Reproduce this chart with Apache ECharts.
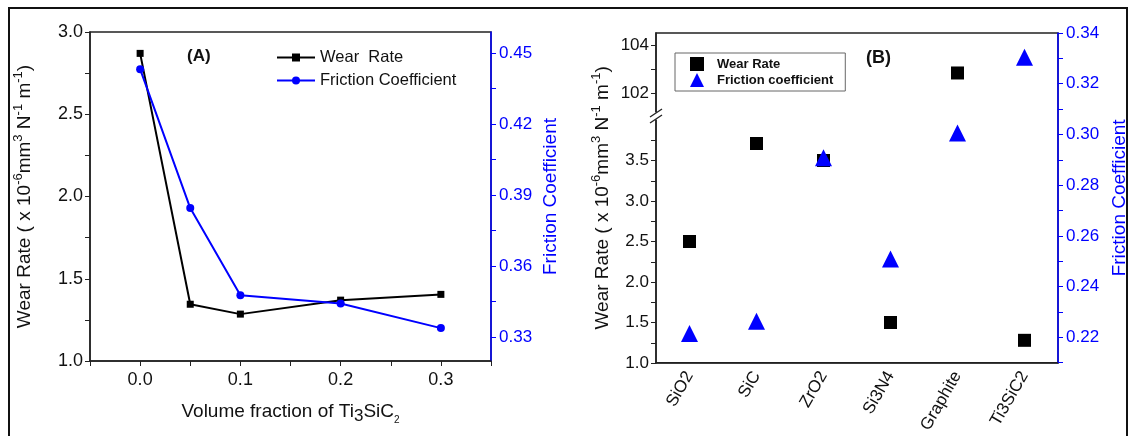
<!DOCTYPE html>
<html>
<head>
<meta charset="utf-8">
<script src="https://cdn.jsdelivr.net/npm/echarts@6/dist/echarts.min.js"></script>
<style>
  html, body { margin: 0; padding: 0; background: #fff; }
  #chart { width: 1134px; height: 436px; }
</style>
</head>
<body>
<div id="chart"></div>
<script>
// ---- Panel A: wear rate and friction coefficient vs. Ti3SiC2 volume fraction ----
const fractionA  = [0, 0.05, 0.1, 0.2, 0.3];
const wearRateA  = [2.87, 1.345, 1.285, 1.37, 1.405];
const frictionA  = [0.4432, 0.3845, 0.3477, 0.3442, 0.3338];

// ---- Panel B: wear rate and friction coefficient for each solid additive ----
const additivesB = ['SiO2', 'SiC', 'ZrO2', 'Si3N4', 'Graphite', 'Ti3SiC2'];
const wearRateB  = [2.5, 3.71, 3.5, 1.5, 102.83, 1.28];
const frictionB  = [0.2215, 0.2263, 0.2908, 0.2509, 0.3006, 0.3304];

// ---- tick labels ----
const ticksAx      = [0.0, 0.1, 0.2, 0.3];
const ticksAleft   = [1.0, 1.5, 2.0, 2.5, 3.0];
const ticksAright  = [0.33, 0.36, 0.39, 0.42, 0.45];
const ticksBlow    = [1.0, 1.5, 2.0, 2.5, 3.0, 3.5];
const ticksBhigh   = [102, 104];
const ticksBright  = [0.22, 0.24, 0.26, 0.28, 0.30, 0.32, 0.34];

const FONT = 'Liberation Sans, Arial, Helvetica, sans-serif';
const BLACK = '#111';
const BLUE = '#0000ff';
const AXIS_LINE = { onZero: false, lineStyle: { color: '#222', width: 1.5 } };

// break between the two ranges of panel B's wear-rate axis
const BREAK_SPLIT = 50;

function has(list, v, eps) {
  return list.some(t => Math.abs(t - v) < (eps || 1e-6));
}
function minorSteps(from, to, step) {
  const out = [];
  const n = Math.round((to - from) / step);
  for (let i = 0; i <= n; i++) out.push(+(from + i * step).toFixed(6));
  return out;
}

const wearTitle = '{n|Wear Rate ( x 10}{s|-6}{n|mm}{s|3}{n| N}{s|-1}{n| m}{s|-1}{n|)}';
const supRich = {
  n: { fontSize: 19, lineHeight: 26, fontFamily: FONT, color: BLACK },
  s: { fontSize: 13, lineHeight: 12, verticalAlign: 'top', fontFamily: FONT, color: BLACK }
};

const chart = echarts.init(document.getElementById('chart'), null, { renderer: 'canvas' });

const option = {
  animation: false,
  backgroundColor: '#fff',
  textStyle: { fontFamily: FONT },
  title: [
    { text: '(A)', left: 187, top: 48, padding: 0,
      textStyle: { fontSize: 17, fontWeight: 'bold', color: BLACK, fontFamily: FONT } },
    { text: '(B)', left: 866, top: 49, padding: 0,
      textStyle: { fontSize: 18, fontWeight: 'bold', color: BLACK, fontFamily: FONT } }
  ],
  legend: [
    {
      data: ['Wear  Rate', 'Friction Coefficient'],
      orient: 'vertical', left: 276, top: 49, padding: 0,
      itemWidth: 38, itemHeight: 10, itemGap: 6,
      textStyle: { fontSize: 16.5, color: BLACK, fontFamily: FONT }
    },
    {
      data: ['Wear Rate', 'Friction coefficient'],
      orient: 'vertical', left: 675, top: 53, padding: [4, 12, 4, 15],
      borderColor: '#666', borderWidth: 1,
      itemWidth: 14, itemHeight: 14, itemGap: 2,
      itemStyle: { opacity: 1 },
      textStyle: { fontSize: 13, fontWeight: 'bold', color: BLACK, fontFamily: FONT, padding: [0, 0, 0, 8] }
    }
  ],
  grid: [
    // A
    { left: 90, top: 32, width: 401, height: 329, show: true, borderColor: '#222', borderWidth: 1.5, backgroundColor: 'transparent' },
    // B (full panel: friction axis and categories)
    { left: 656, top: 33, width: 402, height: 330, show: true, borderColor: '#222', borderWidth: 1.5, backgroundColor: 'transparent' },
    // B upper wear-rate range
    { left: 656, top: 33, width: 402, height: 79 },
    // B lower wear-rate range
    { left: 656, top: 120, width: 402, height: 243 }
  ],
  xAxis: [
    {
      gridIndex: 0, type: 'value', min: -0.05, max: 0.35, interval: 0.05,
      axisLine: AXIS_LINE, splitLine: { show: false },
      axisTick: { length: 5, lineStyle: { color: '#222' } },
      axisLabel: {
        fontSize: 18, color: BLACK, margin: 10,
        formatter: v => has(ticksAx, v) ? (Math.round(v * 10) / 10).toFixed(1) : ''
      },
      name: '{n|Volume fraction of Ti}{b|3}{n|SiC}{t|2}',
      nameLocation: 'middle', nameGap: 38,
      nameTextStyle: {
        rich: {
          n: { fontSize: 19, lineHeight: 26, fontFamily: FONT, color: BLACK },
          b: { fontSize: 17, lineHeight: 14, verticalAlign: 'bottom', fontFamily: FONT, color: BLACK },
          t: { fontSize: 10, lineHeight: 11, verticalAlign: 'bottom', fontFamily: FONT, color: BLACK }
        }
      }
    },
    {
      gridIndex: 1, type: 'category', data: additivesB, boundaryGap: true,
      axisLine: AXIS_LINE,
      axisTick: { length: 5, interval: 0, alignWithLabel: false, lineStyle: { color: '#222' } },
      axisLabel: { fontSize: 17, color: BLACK, rotate: 60, margin: 10, interval: 0 }
    },
    {
      gridIndex: 1, type: 'category', data: additivesB, boundaryGap: true, position: 'bottom',
      axisLine: { show: false, onZero: false },
      axisTick: { length: 6, interval: 0, alignWithLabel: true, lineStyle: { color: '#222' } },
      axisLabel: { show: false }
    },
    { gridIndex: 2, type: 'category', data: additivesB, show: false },
    { gridIndex: 3, type: 'category', data: additivesB, show: false }
  ],
  yAxis: [
    // A left: wear rate
    {
      gridIndex: 0, type: 'value', min: 1, max: 3, interval: 0.25, position: 'left',
      axisLine: { show: true, ...AXIS_LINE }, splitLine: { show: false },
      axisTick: { show: true, length: 5, lineStyle: { color: '#222' } },
      axisLabel: {
        fontSize: 18, color: BLACK, margin: 7,
        formatter: v => has(ticksAleft, v) ? v.toFixed(1) : ''
      },
      name: wearTitle, nameLocation: 'middle', nameRotate: 90, nameGap: 52,
      nameTextStyle: { rich: supRich }
    },
    // A right: friction coefficient
    {
      gridIndex: 0, type: 'value', min: 0.3199, max: 0.4589, position: 'right',
      axisLine: { show: true, onZero: false, lineStyle: { color: BLUE, width: 1.5 } }, splitLine: { show: false },
      axisTick: { show: true, length: 5, lineStyle: { color: BLUE }, customValues: minorSteps(0.33, 0.45, 0.015) },
      axisLabel: { fontSize: 17, color: BLUE, margin: 8, customValues: ticksAright, formatter: v => v.toFixed(2) },
      name: 'Friction Coefficient', nameLocation: 'middle', nameRotate: 90, nameGap: 50,
      nameTextStyle: { fontSize: 19, color: BLUE, fontFamily: FONT }
    },
    // B right: friction coefficient (full panel height)
    {
      gridIndex: 1, type: 'value', min: 0.21, max: 0.34, interval: 0.01, position: 'right',
      axisLine: { show: true, onZero: false, lineStyle: { color: BLUE, width: 1.5 } }, splitLine: { show: false },
      axisTick: { show: true, length: 5, lineStyle: { color: BLUE } },
      axisLabel: {
        fontSize: 17, color: BLUE, margin: 8,
        formatter: v => has(ticksBright, v) ? v.toFixed(2) : ''
      },
      name: 'Friction Coefficient', nameLocation: 'middle', nameRotate: 90, nameGap: 52,
      nameTextStyle: { fontSize: 19, color: BLUE, fontFamily: FONT }
    },
    // B left: holds the wear-rate title centred on the whole panel
    {
      gridIndex: 1, type: 'value', min: 0, max: 1, position: 'left',
      axisLine: { show: false, onZero: false }, axisTick: { show: false }, axisLabel: { show: false },
      splitLine: { show: false },
      name: wearTitle, nameLocation: 'middle', nameRotate: 90, nameGap: 40,
      nameTextStyle: { rich: supRich }
    },
    // B left upper range
    {
      gridIndex: 2, type: 'value', min: 101.2, max: 104.5, position: 'left',
      axisLine: { show: true, ...AXIS_LINE }, splitLine: { show: false },
      axisTick: { show: true, length: 5, lineStyle: { color: '#222' }, customValues: [102, 103, 104] },
      axisLabel: { fontSize: 17, color: BLACK, margin: 7, customValues: ticksBhigh, formatter: v => String(v) }
    },
    // B left lower range
    {
      gridIndex: 3, type: 'value', min: 1, max: 4, position: 'left',
      axisLine: { show: true, ...AXIS_LINE }, splitLine: { show: false },
      axisTick: { show: true, length: 5, lineStyle: { color: '#222' }, customValues: minorSteps(1, 3.75, 0.25) },
      axisLabel: { fontSize: 17, color: BLACK, margin: 7, customValues: ticksBlow, formatter: v => v.toFixed(1) }
    }
  ],
  series: [
    {
      name: 'Wear  Rate', type: 'line', xAxisIndex: 0, yAxisIndex: 0,
      data: fractionA.map((x, i) => [x, wearRateA[i]]),
      symbol: 'rect', symbolSize: 7, color: '#000',
      itemStyle: { opacity: 1 },
      lineStyle: { color: '#000', width: 2 }, z: 3
    },
    {
      name: 'Friction Coefficient', type: 'line', xAxisIndex: 0, yAxisIndex: 1,
      data: fractionA.map((x, i) => [x, frictionA[i]]),
      symbol: 'circle', symbolSize: 8, color: BLUE,
      itemStyle: { opacity: 1 },
      lineStyle: { color: BLUE, width: 2 }, z: 3
    },
    {
      name: 'Wear Rate', type: 'scatter', xAxisIndex: 4, yAxisIndex: 5,
      data: wearRateB.map(v => v < BREAK_SPLIT ? v : '-'),
      symbol: 'rect', symbolSize: 13, color: '#000',
      itemStyle: { opacity: 1 }, z: 3
    },
    {
      name: 'Wear Rate', type: 'scatter', xAxisIndex: 3, yAxisIndex: 4,
      data: wearRateB.map(v => v >= BREAK_SPLIT ? v : '-'),
      symbol: 'rect', symbolSize: 13, color: '#000',
      itemStyle: { opacity: 1 }, z: 3
    },
    {
      name: 'Friction coefficient', type: 'scatter', xAxisIndex: 1, yAxisIndex: 2,
      data: frictionB,
      symbol: 'triangle', symbolSize: 17, color: BLUE,
      itemStyle: { opacity: 1 }, z: 4
    }
  ],
  graphic: [
    // figure frame
    { type: 'rect', shape: { x: 9, y: 8, width: 1118, height: 440 },
      style: { fill: 'none', stroke: '#111', lineWidth: 2 }, silent: true, z: 10 },
    // axis break marks on panel B's wear-rate axis
    { type: 'rect', shape: { x: 650, y: 112.5, width: 12, height: 7 },
      style: { fill: '#fff' }, silent: true, z: 10 },
    { type: 'line', shape: { x1: 650, y1: 117, x2: 662, y2: 109 },
      style: { stroke: '#222', lineWidth: 1.3 }, silent: true, z: 11 },
    { type: 'line', shape: { x1: 650, y1: 123, x2: 662, y2: 115 },
      style: { stroke: '#222', lineWidth: 1.3 }, silent: true, z: 11 }
  ]
};

chart.setOption(option);
</script>
</body>
</html>
